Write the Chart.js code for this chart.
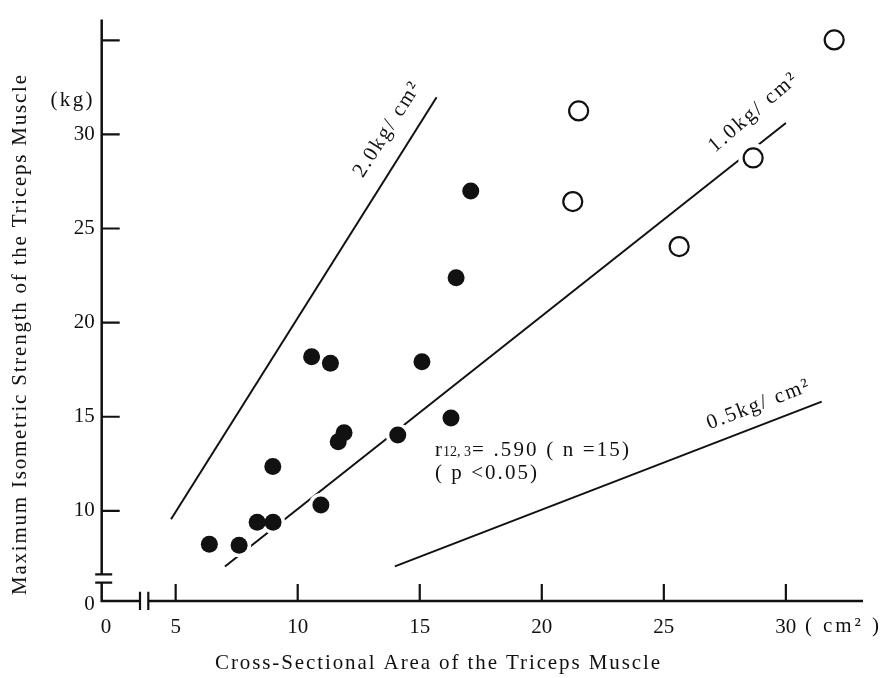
<!DOCTYPE html>
<html>
<head>
<meta charset="utf-8">
<script src="https://cdn.jsdelivr.net/npm/chart.js@4"></script>
<style>
  html,body{margin:0;padding:0;background:#fff;}
  #wrap{width:881px;height:678px;}
</style>
</head>
<body>
<div id="wrap"><canvas id="c" width="881" height="678"></canvas></div>
<script>
// ---- data ----
const tricepsArea   = [6.38, 7.60, 8.34, 8.99, 8.98, 10.57, 11.34, 10.95, 11.66, 11.90, 14.10, 15.09, 16.28, 16.49, 17.09];
const tricepsForce  = [8.22, 8.17, 9.40, 9.40, 12.35, 18.19, 17.84, 10.31, 13.67, 14.15, 14.03, 17.92, 14.93, 22.39, 26.99];
const wholeArea     = [31.98, 21.51, 21.27, 28.66, 25.63];
const wholeForce    = [35.02, 31.25, 26.43, 28.75, 24.04];
// reference lines (kg per cm^2)
const line20X = [4.81, 15.69];
const line20Y = [9.55, 31.97];
const line10X = [7.02, 30.00];
const line10Y = [7.04, 30.61];
const line05X = [13.98, 31.47];
const line05Y = [7.05, 15.80];
// axes
const X_MIN = 1.97, X_MAX = 33.16, X_ZERO = 2.15;
const Y_MIN = 5.21, Y_MAX = 36.10, Y_ZERO = 5.0;
const xTickValues = [5, 10, 15, 20, 25, 30];
const yTickValues = [10, 15, 20, 25, 30, 35];
const yTickLabels = ['10', '15', '20', '25', '30', ''];
const zeroLabel = '0';
const xTitle = 'Cross-Sectional Area of the Triceps Muscle';
const yTitle = 'Maximum Isometric Strength of the Triceps Muscle';

const pts = (xs, ys) => xs.map((x, i) => ({x, y: ys[i]}));
const SERIF = "'Liberation Serif', 'DejaVu Serif', serif";
const INK = '#111';

function spacedText(ctx, text, x, y, width, angle, size, baseline) {
  ctx.save();
  ctx.translate(x, y);
  ctx.rotate(angle || 0);
  ctx.font = size + 'px ' + SERIF;
  ctx.fillStyle = INK;
  ctx.textBaseline = baseline || 'middle';
  const n = [...text].length;
  const w = ctx.measureText(text).width;
  const sp = n > 1 ? (width - w) / (n - 1) : 0;
  if ('letterSpacing' in ctx) {
    ctx.letterSpacing = sp + 'px';
    ctx.textAlign = 'left';
    ctx.fillText(text, -width / 2, 0);
  } else {
    ctx.textAlign = 'center';
    ctx.fillText(text, 0, 0);
  }
  ctx.restore();
}
function spacedLeft(ctx, text, x, y, width, size) {
  ctx.save();
  ctx.font = size + 'px ' + SERIF;
  ctx.fillStyle = INK;
  ctx.textBaseline = 'alphabetic';
  ctx.textAlign = 'left';
  const n = [...text].length;
  const w = ctx.measureText(text).width;
  if ('letterSpacing' in ctx) ctx.letterSpacing = ((width - w) / (n - 1)) + 'px';
  ctx.fillText(text, x, y);
  ctx.restore();
}

const decor = {
  id: 'decor',
  afterDraw(chart) {
    const ctx = chart.ctx;
    const xs = chart.scales.x, ys = chart.scales.y;
    const L = xs.left, B = ys.bottom, R = xs.right, T = ys.top;
    ctx.save();
    ctx.strokeStyle = INK;
    ctx.lineWidth = 2.5;
    ctx.lineCap = 'butt';
    ctx.lineJoin = 'miter';
    ctx.beginPath();
    ctx.moveTo(L, T); ctx.lineTo(L, B - 26.7);
    ctx.stroke();
    ctx.lineWidth = 2.2;
    ctx.beginPath();
    ctx.moveTo(L - 6.5, B - 26.7); ctx.lineTo(L + 10.5, B - 26.7);
    ctx.moveTo(L - 6.5, B - 18.3); ctx.lineTo(L + 10.5, B - 18.3);
    ctx.stroke();
    ctx.lineWidth = 2.5;
    ctx.beginPath();
    ctx.moveTo(L, B - 18.3); ctx.lineTo(L, B); ctx.lineTo(L + 38.3, B);
    ctx.stroke();
    ctx.lineWidth = 2.2;
    ctx.beginPath();
    ctx.moveTo(L + 38.3, B - 9.3); ctx.lineTo(L + 38.3, B + 9);
    ctx.moveTo(L + 46.6, B - 9.3); ctx.lineTo(L + 46.6, B + 9);
    ctx.stroke();
    ctx.lineWidth = 2.5;
    ctx.beginPath();
    ctx.moveTo(L + 46.6, B); ctx.lineTo(R, B);
    ctx.stroke();
    ctx.lineWidth = 2.2;
    ctx.beginPath();
    xTickValues.forEach(v => {
      const px = xs.getPixelForValue(v);
      ctx.moveTo(px, B); ctx.lineTo(px, B - 17);
    });
    yTickValues.forEach(v => {
      const py = ys.getPixelForValue(v);
      ctx.moveTo(L, py); ctx.lineTo(L + 18, py);
    });
    ctx.stroke();
    ctx.restore();

    spacedText(ctx, xTitle, 437.5, 663, 445, 0, 21);
    spacedText(ctx, yTitle, 20, 335, 520, -Math.PI / 2, 21);
    spacedText(ctx, '(kg)', 71.5, 100, 42, 0, 21);
    spacedText(ctx, '( cm² )', 842, 626, 74, 0, 21);
    spacedText(ctx, '2.0kg/ cm²', 387, 130, 108, -57.5 * Math.PI / 180, 21);
    spacedText(ctx, '1.0kg/ cm²', 753, 113, 110, -40.5 * Math.PI / 180, 21);
    spacedText(ctx, '0.5kg/ cm²', 758, 405, 108, -21 * Math.PI / 180, 21);
    ctx.save();
    ctx.font = '21px ' + SERIF;
    ctx.fillStyle = INK;
    ctx.textBaseline = 'alphabetic';
    ctx.textAlign = 'left';
    let x = 435;
    ctx.fillText('r', x, 456);
    x += ctx.measureText('r').width + 1;
    ctx.font = '14px ' + SERIF;
    ctx.fillText('12, 3', x, 456);
    x += ctx.measureText('12, 3').width + 1;
    ctx.restore();
    spacedLeft(ctx, '= .590 ( n =15)', x, 456, 632 - x - 3, 21);
    spacedLeft(ctx, '( p <0.05)', 435, 479, 102, 21);
  }
};

const ctx = document.getElementById('c').getContext('2d');
new Chart(ctx, {
  type: 'scatter',
  data: {
    datasets: [
      { label: '2.0 kg/cm²', type: 'line', data: pts(line20X, line20Y), borderColor: INK, borderWidth: 2, pointRadius: 0, fill: false, order: 10 },
      { label: '1.0 kg/cm²', type: 'line', data: pts(line10X, line10Y), borderColor: INK, borderWidth: 2, pointRadius: 0, fill: false, order: 10 },
      { label: '0.5 kg/cm²', type: 'line', data: pts(line05X, line05Y), borderColor: INK, borderWidth: 2, pointRadius: 0, fill: false, order: 10 },
      { label: 'halo triceps', data: pts(tricepsArea, tricepsForce), pointRadius: 12, backgroundColor: '#fff', borderWidth: 0, order: 5 },
      { label: 'halo whole', data: pts(wholeArea, wholeForce), pointRadius: 15, backgroundColor: '#fff', borderWidth: 0, order: 5 },
      { label: 'Triceps Muscle', data: pts(tricepsArea, tricepsForce), pointRadius: 8.5, backgroundColor: '#111', borderColor: '#111', borderWidth: 0, order: 1 },
      { label: 'Whole Muscle', data: pts(wholeArea, wholeForce), pointRadius: 9.5, backgroundColor: '#fff', borderColor: '#111', borderWidth: 2.2, order: 1 }
    ]
  },
  options: {
    responsive: false,
    animation: false,
    devicePixelRatio: 1,
    layout: { padding: { left: 0, right: 18, top: 10, bottom: 0 } },
    plugins: { legend: { display: false }, tooltip: { enabled: false } },
    scales: {
      x: {
        type: 'linear', min: X_MIN, max: X_MAX,
        grid: { display: false, drawTicks: false },
        border: { display: false },
        afterBuildTicks: s => { s.ticks = [X_ZERO, ...xTickValues].map(v => ({ value: v })); },
        afterFit: s => { s.height = 77; },
        ticks: {
          autoSkip: false, maxRotation: 0, padding: 14,
          color: INK, font: { family: SERIF, size: 21 },
          callback: v => (v === X_ZERO ? zeroLabel : String(v))
        }
      },
      y: {
        type: 'linear', min: Y_MIN, max: Y_MAX,
        grid: { display: false, drawTicks: false },
        border: { display: false },
        afterBuildTicks: s => { s.ticks = [Y_ZERO, ...yTickValues].map(v => ({ value: v })); },
        afterFit: s => { s.width = 101.7; },
        ticks: {
          autoSkip: false, padding: 7,
          color: INK, font: { family: SERIF, size: 21 },
          callback: v => (v === Y_ZERO ? zeroLabel : yTickLabels[yTickValues.indexOf(v)])
        }
      }
    }
  },
  plugins: [decor]
});
</script>
</body>
</html>
